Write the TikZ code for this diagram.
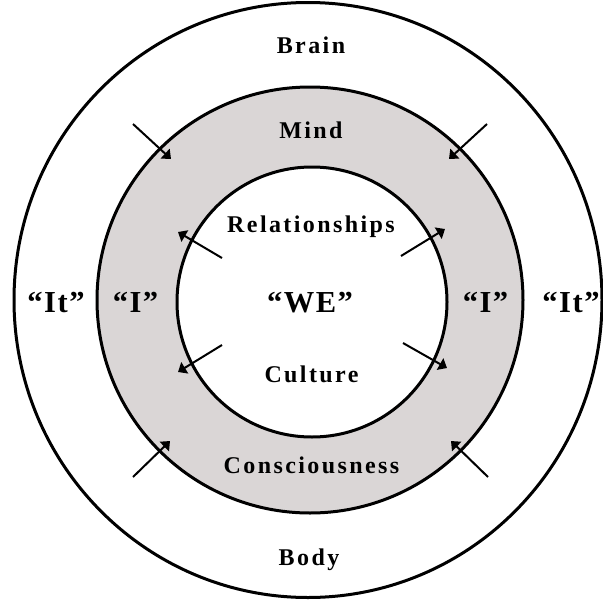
\documentclass[tikz,border=0pt]{standalone}
\usepackage{fontspec}
\setmainfont{Liberation Serif}
\newfontfamily\spacedfont[LetterSpace=10]{Liberation Serif}
\newfontfamily\bigfont[LetterSpace=5]{Liberation Serif}
\usetikzlibrary{arrows.meta}
\definecolor{ringgray}{RGB}{218,214,214}
\begin{document}
\begin{tikzpicture}[x=1pt,y=-1pt,
  ring/.style={line width=3pt, draw=black},
  lbl/.style={font=\spacedfont\bfseries\fontsize{24}{24}\selectfont, anchor=base, inner sep=0pt},
  big/.style={font=\bigfont\bfseries\fontsize{30.5}{31}\selectfont, anchor=base, inner sep=0pt},
  arr/.style={line width=2pt, -{Triangle[width=13pt,length=8pt]}}]
\useasboundingbox[fill=white] (0,0) rectangle (603,600);
% rings
\path[ring, fill=white] (308,300) ellipse [x radius=294pt, y radius=297.5pt];
\path[ring, fill=ringgray] (310,300) circle [radius=213pt];
\path[ring, fill=white] (312,302) circle [radius=135pt];
% labels
\node[lbl] (brain) at (311,53) {Brain};
\node[lbl] (mind) at (311,138) {Mind};
\node[lbl] (rel) at (311,232) {Relationships};
\node[lbl] (cult) at (311.5,382) {Culture};
\node[lbl] (cons) at (311.5,473) {Consciousness};
\node[lbl] (body) at (309,565) {Body};
\node[big] (we) at (310,312) {“WE”};
\node[big] (iL) at (135.5,312) {“I”};
\node[big] (iR) at (485.5,312) {“I”};
\node[big] (itL) at (56,312) {“It”};
\node[big] (itR) at (571,312) {“It”};
% arrow end points
\coordinate (a1s) at (133,124);   \coordinate (a1e) at (171,159);
\coordinate (a2s) at (487,124);   \coordinate (a2e) at (449,159);
\coordinate (a3s) at (133,477);   \coordinate (a3e) at (170,441);
\coordinate (a4s) at (488,477);   \coordinate (a4e) at (451,441);
\coordinate (a5s) at (222,258);   \coordinate (a5e) at (178,232);
\coordinate (a6s) at (401,256);   \coordinate (a6e) at (445,229);
\coordinate (a7s) at (222,345);   \coordinate (a7e) at (178,372);
\coordinate (a8s) at (403,343);   \coordinate (a8e) at (447,368);
\foreach \i in {1,...,8} { \draw[arr] (a\i s) -- (a\i e); }
\end{tikzpicture}
\end{document}
